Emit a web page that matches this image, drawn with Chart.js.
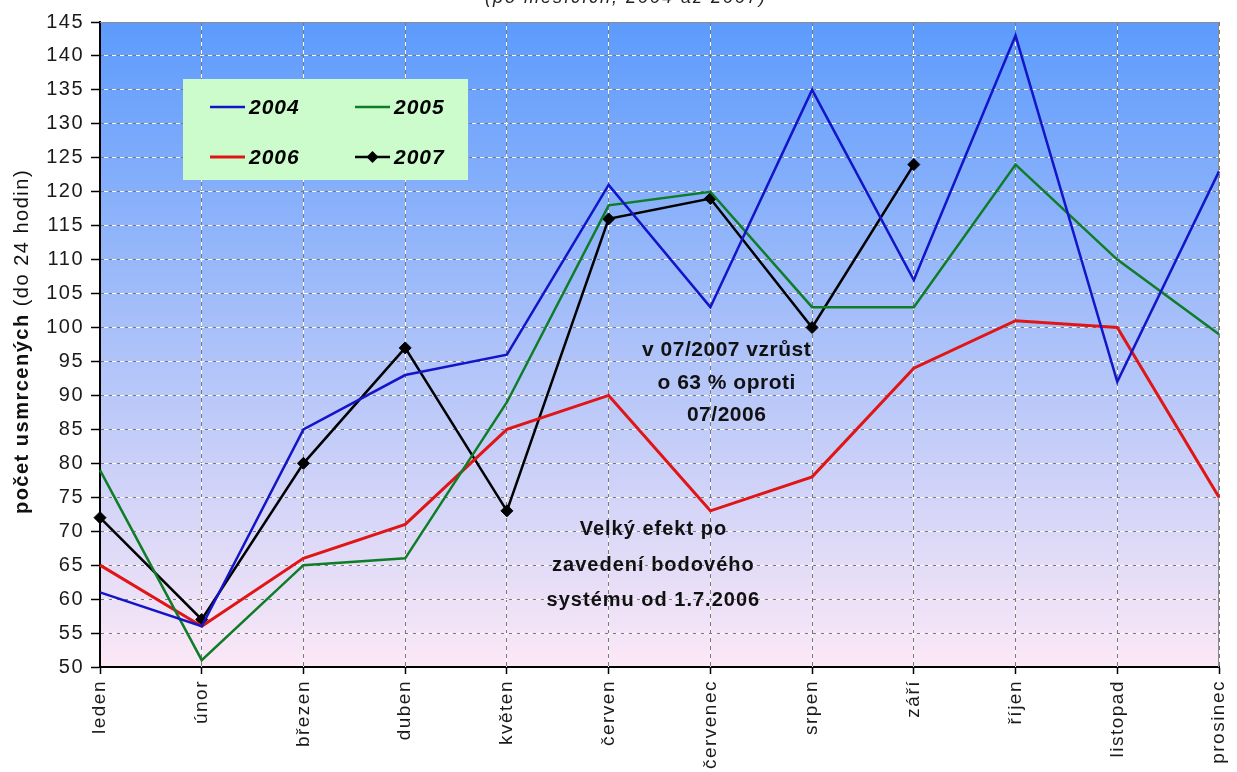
<!DOCTYPE html>
<html lang="cs">
<head>
<meta charset="utf-8">
<title>Počet usmrcených po měsících</title>
<script src="https://cdn.jsdelivr.net/npm/chart.js@4.4.1/dist/chart.umd.min.js"></script>
<style>
  html, body { margin: 0; padding: 0; background: #fff; }
  #wrap { width: 1237px; height: 772px; overflow: hidden; }
</style>
</head>
<body>
<div id="wrap"><canvas id="chart" width="1237" height="772"></canvas></div>
<script>
// Categories (months)
const months = ['leden', 'únor', 'březen', 'duben', 'květen', 'červen',
                'červenec', 'srpen', 'září', 'říjen', 'listopad', 'prosinec'];

// Deaths per month (within 24 hours)
const values2004 = [61, 56, 85, 93, 96, 121, 103, 135, 107, 143, 92, 123];
const values2005 = [79, 51, 65, 66, 89, 118, 120, 103, 103, 124, 110, 99];
const values2006 = [65, 56, 66, 71, 85, 90, 73, 78, 94, 101, 100, 75];
const values2007 = [72, 57, 80, 97, 73, 116, 119, 100, 124];

const seriesLabels = ['2004', '2005', '2006', '2007'];

// Y axis range
const yMin = 50;
const yMax = 145;
const yStep = 5;

const FONT = "'Liberation Sans', Arial, sans-serif";

// Text notes, anchored in data coordinates (category index, value)
const notes = [
    { x: 6.16, y: [96.7, 91.8, 87.1], size: 21, spacing: '0.5px',
      lines: ['v 07/2007 vzrůst', 'o 63 % oproti', '07/2006'] },
    { x: 5.44, y: [70.2, 65.0, 59.8], size: 20, spacing: '1px',
      lines: ['Velký efekt po', 'zavedení bodového', 'systému od 1.7.2006'] }
];

/**
 * Paints the plot background gradient and sets text spacing
 */
const plotBackground = {
    id: 'plotBackground',
    beforeDraw(chart) {
        const { ctx, chartArea: a } = chart;
        ctx.letterSpacing = '1.5px';
        ctx.save();
        const g = ctx.createLinearGradient(0, a.top, 0, a.bottom);
        g.addColorStop(0, '#5c9bfc');
        g.addColorStop(1, '#fce8f6');
        ctx.fillStyle = g;
        ctx.fillRect(a.left, a.top, a.right - a.left, a.bottom - a.top);
        ctx.restore();
    }
};

/**
 * Adds the white half of the two-tone dashed grid and the grey frame
 */
const gridOverlay = {
    id: 'gridOverlay',
    beforeDatasetsDraw(chart) {
        const { ctx, chartArea: a, scales: { x, y } } = chart;
        const align = p => Math.round(p - 0.5) + 0.5;
        ctx.save();
        ctx.strokeStyle = 'rgba(255, 255, 255, 0.95)';
        ctx.lineWidth = 1;
        ctx.setLineDash([4, 4]);
        ctx.lineDashOffset = 4;
        ctx.beginPath();
        y.ticks.forEach(t => {
            if (t.value <= yMin || t.value >= yMax) return;
            const py = align(y.getPixelForValue(t.value));
            ctx.moveTo(a.left, py);
            ctx.lineTo(a.right, py);
        });
        x.ticks.forEach((t, i) => {
            if (i === 0 || i === x.ticks.length - 1) return;
            const px = align(x.getPixelForValue(i));
            ctx.moveTo(px, a.top);
            ctx.lineTo(px, a.bottom);
        });
        ctx.stroke();

        ctx.setLineDash([]);
        ctx.strokeStyle = '#8c8c8c';
        ctx.beginPath();
        ctx.moveTo(a.left, a.top + 0.5);
        ctx.lineTo(a.right - 0.5, a.top + 0.5);
        ctx.lineTo(a.right - 0.5, a.bottom);
        ctx.stroke();
        ctx.restore();
    }
};

/**
 * Draws the legend box inside the plot, and the text notes
 */
const legendAndNotes = {
    id: 'legendAndNotes',
    afterDatasetsDraw(chart) {
        const { ctx, chartArea: a, scales: { x, y } } = chart;
        ctx.save();

        // Notes
        ctx.fillStyle = '#111';
        ctx.textAlign = 'center';
        ctx.textBaseline = 'middle';
        notes.forEach(n => {
            ctx.font = `bold ${n.size}px ${FONT}`;
            ctx.letterSpacing = n.spacing;
            const px = x.getPixelForValue(n.x);
            n.lines.forEach((line, i) => {
                ctx.fillText(line, px, y.getPixelForValue(n.y[i]));
            });
        });

        // Legend
        const x0 = a.left + 83;
        const y0 = a.top + 57;
        ctx.fillStyle = '#ccfbcc';
        ctx.fillRect(x0, y0, 285, 101);
        ctx.textAlign = 'left';
        ctx.font = `italic bold 21px ${FONT}`;
        ctx.letterSpacing = '1px';
        chart.data.datasets.forEach((ds, i) => {
            const lx = x0 + 27 + (i % 2) * 145;
            const ly = y0 + 28 + Math.floor(i / 2) * 50;
            ctx.strokeStyle = ds.borderColor;
            ctx.lineWidth = ds.borderWidth;
            ctx.beginPath();
            ctx.moveTo(lx, ly);
            ctx.lineTo(lx + 35, ly);
            ctx.stroke();
            if (ds.pointRadius > 0) {
                const r = ds.pointRadius;
                const cx = lx + 17.5;
                ctx.fillStyle = ds.pointBackgroundColor;
                ctx.beginPath();
                ctx.moveTo(cx, ly - r);
                ctx.lineTo(cx + r, ly);
                ctx.lineTo(cx, ly + r);
                ctx.lineTo(cx - r, ly);
                ctx.closePath();
                ctx.fill();
            }
            ctx.fillStyle = '#000';
            ctx.fillText(ds.label, lx + 39, ly + 1);
        });
        ctx.restore();
    },

    // Y axis title (mixed weights) and the clipped top subtitle
    afterDraw(chart) {
        const { ctx, chartArea: a } = chart;
        ctx.save();
        ctx.fillStyle = '#111';
        ctx.letterSpacing = '1.5px';
        ctx.textBaseline = 'alphabetic';

        const boldPart = 'počet usmrcených';
        const normalPart = ' (do 24 hodin)';
        ctx.font = `bold 20px ${FONT}`;
        const wBold = ctx.measureText(boldPart).width;
        ctx.font = `20px ${FONT}`;
        const wNormal = ctx.measureText(normalPart).width;
        ctx.translate(28, (a.top + a.bottom) / 2 - 3);
        ctx.rotate(-Math.PI / 2);
        const start = -(wBold + wNormal) / 2;
        ctx.textAlign = 'left';
        ctx.font = `bold 20px ${FONT}`;
        ctx.fillText(boldPart, start, 0);
        ctx.font = `20px ${FONT}`;
        ctx.fillText(normalPart, start + wBold, 0);
        ctx.restore();

        ctx.save();
        ctx.fillStyle = '#222';
        ctx.letterSpacing = '2px';
        ctx.font = `italic 18px ${FONT}`;
        ctx.textAlign = 'center';
        ctx.textBaseline = 'alphabetic';
        ctx.fillText('(po měsících, 2004 až 2007)', 626, 3);
        ctx.restore();
    }
};

function buildChart() {
    const ctx = document.getElementById('chart').getContext('2d');
    return new Chart(ctx, {
        type: 'line',
        data: {
            labels: months,
            datasets: [
                { label: seriesLabels[0], data: values2004, borderColor: '#1414c8', borderWidth: 2.5, pointRadius: 0 },
                { label: seriesLabels[1], data: values2005, borderColor: '#0f7d28', borderWidth: 2.5, pointRadius: 0 },
                { label: seriesLabels[2], data: values2006, borderColor: '#e01616', borderWidth: 3, pointRadius: 0 },
                { label: seriesLabels[3], data: values2007, borderColor: '#000', borderWidth: 2.5,
                  pointStyle: 'rectRot', pointRadius: 6, pointBackgroundColor: '#000',
                  pointBorderColor: '#000', pointBorderWidth: 1 }
            ]
        },
        options: {
            responsive: false,
            animation: false,
            layout: { padding: { top: 22, right: 18, left: 0, bottom: 0 } },
            plugins: {
                legend: { display: false },
                tooltip: { enabled: false }
            },
            scales: {
                x: {
                    offset: false,
                    grid: { color: '#7a7a7a', lineWidth: 1, tickLength: 7, tickColor: '#000', tickWidth: 1.5 },
                    border: { color: '#000', width: 2, dash: [4, 4] },
                    ticks: {
                        autoSkip: false, minRotation: 90, maxRotation: 90, padding: 6,
                        color: '#1a1a1a', font: { family: FONT, size: 19 }
                    },
                    afterFit: scale => {
                        scale.height = 105;
                        scale.paddingLeft = 0;
                        scale.paddingRight = 0;
                    }
                },
                y: {
                    min: yMin,
                    max: yMax,
                    grid: { color: '#7a7a7a', lineWidth: 1, tickLength: 9, tickColor: '#000', tickWidth: 1.5 },
                    border: { color: '#000', width: 2, dash: [4, 4] },
                    ticks: {
                        stepSize: yStep, autoSkip: false, padding: 7,
                        color: '#1a1a1a', font: { family: FONT, size: 20 }
                    },
                    afterFit: scale => { scale.width = 100; }
                }
            }
        },
        plugins: [plotBackground, gridOverlay, legendAndNotes]
    });
}

document.addEventListener('DOMContentLoaded', buildChart);
</script>
</body>
</html>
